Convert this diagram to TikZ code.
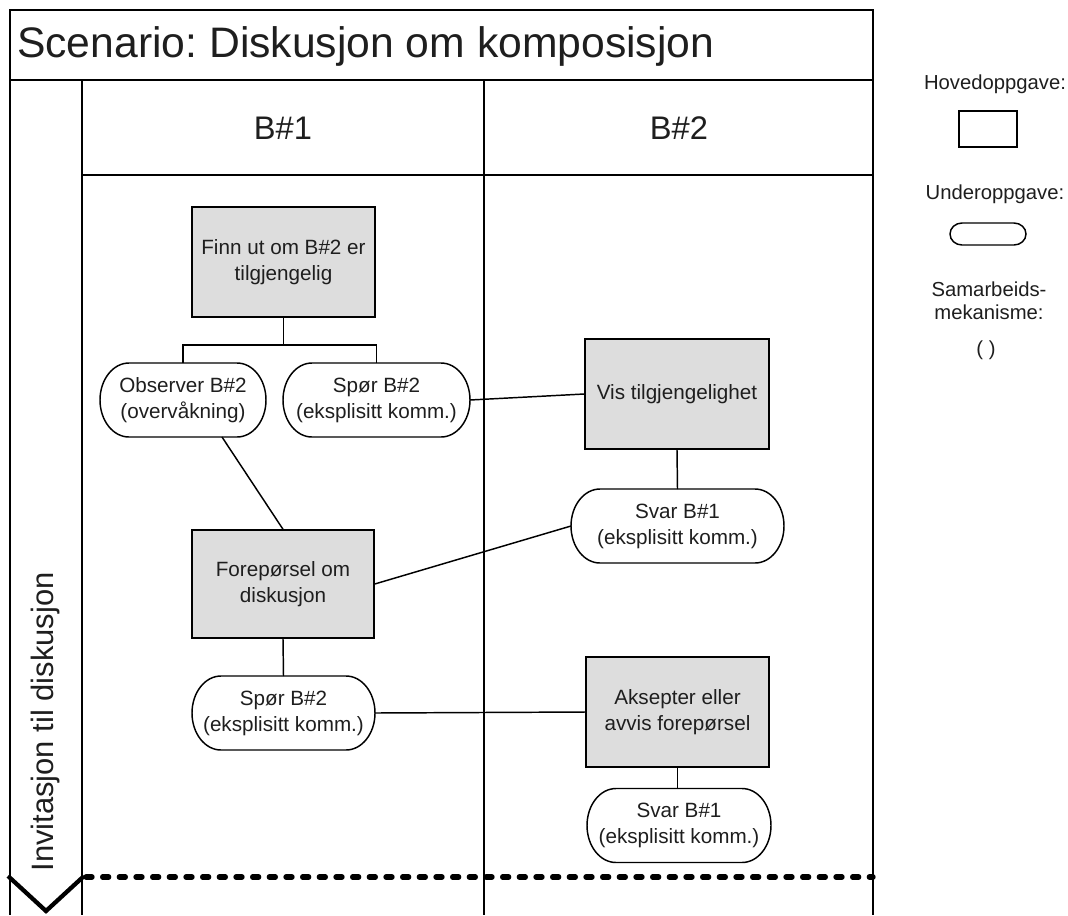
\documentclass[tikz,border=0pt]{standalone}
\usepackage{fontspec}
\setmainfont{Liberation Sans}
\usetikzlibrary{calc}
\definecolor{taskfill}{RGB}{221,221,221}
\definecolor{inkcol}{RGB}{30,30,30}
\frenchspacing
\begin{document}
\begin{tikzpicture}[x=0.75pt,y=-0.75pt,line width=1.1pt,
  lbl/.style={font=\fontsize{15.5}{19.5}\selectfont, align=center, text=inkcol},
  keylbl/.style={font=\fontsize{15.2}{17.5}\selectfont, align=center, text=inkcol},
  mainbox/.style={draw, fill=taskfill, inner sep=0pt, lbl},
  % capsule outline with elliptic ends (#1 = horizontal, #2 = vertical radius)
  capsule/.style 2 args={inner sep=0pt, outer sep=0pt, minimum height={2*#2},
    append after command={\pgfextra{
      \draw ($(\tikzlastnode.north west)+(#1,0pt)$)
        -- ($(\tikzlastnode.north east)+(-#1,0pt)$)
        arc[start angle=90, end angle=-90, x radius=#1, y radius=#2]
        -- ($(\tikzlastnode.south west)+(#1,0pt)$)
        arc[start angle=270, end angle=90, x radius=#1, y radius=#2]
        -- cycle;}}},
  subtask/.style={lbl, capsule={21.75pt}{27.75pt}},
  lane/.style={font=\fontsize{24.5}{29}\selectfont, text=inkcol},
  link/.style={line width=1.1pt}]
\useasboundingbox (0,0) rectangle (1068,915);

% swimlane frame
\draw (10,10) rectangle (873,80);
\node[anchor=west, font=\fontsize{32}{38}\selectfont, text=inkcol] (title) at (12,46) {Scenario: Diskusjon om komposisjon};
\draw (10,80) -- (10,915);
\draw (82,80) -- (82,915);
\draw (484,80) -- (484,915);
\draw (873,80) -- (873,915);
\draw (82,175) -- (873,175);
\node[lane] (b1) at (283,128) {B\#1};
\node[lane] (b2) at (679,128) {B\#2};
\node[lane, font=\fontsize{23.2}{28}\selectfont, rotate=90] (phase) at (46,722) {Invitasjon til diskusjon};
\draw[line width=3.2pt, line join=miter] (8,876) -- (46,911) -- (84,876);
\draw[line width=4pt, line cap=round, dash pattern=on 4.5pt off 8pt] (86,877) -- (873,877);

% tasks
\node[mainbox, minimum width=137.25pt, minimum height=82.5pt] (find) at (283.5,262) {Finn ut om B\#2 er\\tilgjengelig};
\node[subtask, minimum width=124.5pt] (obs) at (183,400) {Observer B\#2\\(overvåkning)};
\node[subtask, minimum width=140.25pt] (ask1) at (376.5,400) {Spør B\#2\\(eksplisitt komm.)};
\node[mainbox, minimum width=138pt, minimum height=82.5pt] (vis) at (677,394) {Vis tilgjengelighet};
\node[subtask, minimum width=159.75pt] (svar1) at (677.5,526) {Svar B\#1\\(eksplisitt komm.)};
\node[mainbox, minimum width=136.5pt, minimum height=81pt] (fore) at (283,584) {Forepørsel om\\diskusjon};
\node[subtask, minimum width=137.25pt] (ask2) at (283.5,713) {Spør B\#2\\(eksplisitt komm.)};
\node[mainbox, minimum width=137.25pt, minimum height=82.5pt] (aks) at (677.5,712) {Aksepter eller\\avvis forepørsel};
\node[subtask, minimum width=138pt] (svar2) at (679,825.5) {Svar B\#1\\(eksplisitt komm.)};

% connectors
\coordinate (split) at (283.5,345);
\draw[link] (find.south) -- (split);
\draw[link] (obs.north) |- (split) -| (ask1.north);
\draw[link] (ask1.east) -- (vis.west);
\draw[link] (vis.south) -- (svar1.north);
\draw[link] ($(obs.south)+(39,0)$) -- (fore.north);
\draw[link] (fore.east) -- (svar1.west);
\draw[link] (fore.south) -- (ask2.north);
\draw[link] (ask2.east) -- (aks.west);
\draw[link] (aks.south) -- (aks.south |- svar2.north);

% legend
\node[keylbl] (lgmain) at (995,84) {Hovedoppgave:};
\node[draw, fill=white, inner sep=0pt, minimum width=43.5pt, minimum height=27pt] (lgbox) at (988,129) {};
\node[keylbl] (lgsub) at (995,194) {Underoppgave:};
\node[capsule={9pt}{8.25pt}, minimum width=57pt] (lgoval) at (988,234) {};
\node[keylbl] (lgmech) at (989,301) {Samarbeids-\\mekanisme:};
\node[keylbl] (lgparen) at (986,350) {( )};
\end{tikzpicture}
\end{document}
